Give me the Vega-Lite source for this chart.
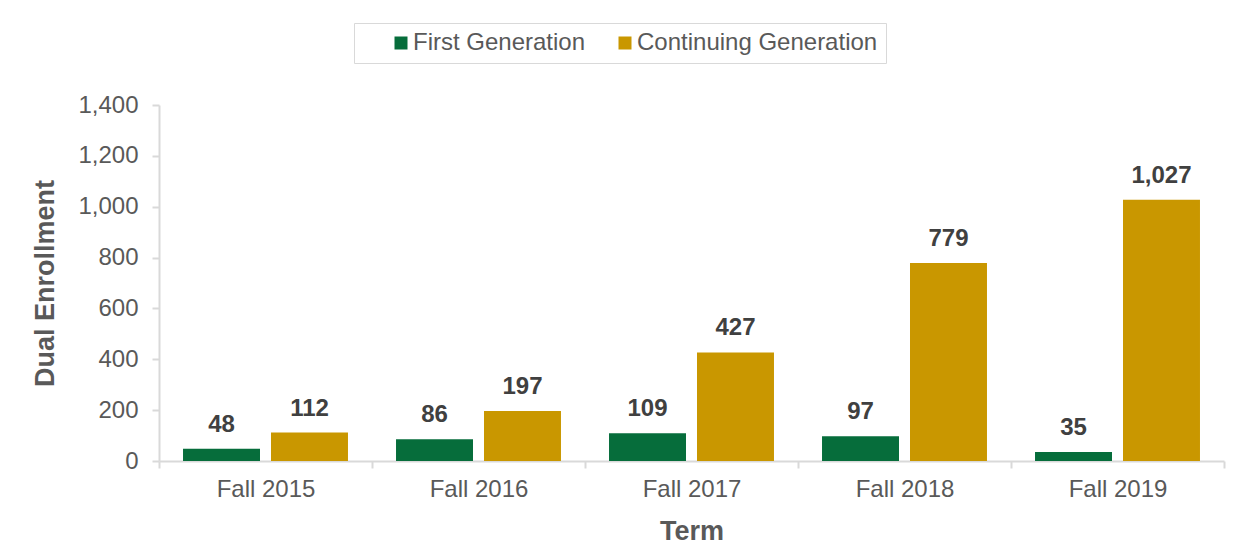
{
  "$schema": "https://vega.github.io/schema/vega-lite/v6.json",
  "autosize": {"type": "none"},
  "width": 1065,
  "height": 356,
  "padding": {"left": 159, "top": 105, "right": 29, "bottom": 91},
  "background": "white",
  "config": {
    "view": {"stroke": null},
    "font": "Liberation Sans",
    "axis": {"labelFont": "Liberation Sans", "titleFont": "Liberation Sans"}
  },
  "data": {
    "values": [
      {"Term": "Fall 2015", "Series": "First Generation", "Enrollment": 48},
      {"Term": "Fall 2015", "Series": "Continuing Generation", "Enrollment": 112},
      {"Term": "Fall 2016", "Series": "First Generation", "Enrollment": 86},
      {"Term": "Fall 2016", "Series": "Continuing Generation", "Enrollment": 197},
      {"Term": "Fall 2017", "Series": "First Generation", "Enrollment": 109},
      {"Term": "Fall 2017", "Series": "Continuing Generation", "Enrollment": 427},
      {"Term": "Fall 2018", "Series": "First Generation", "Enrollment": 97},
      {"Term": "Fall 2018", "Series": "Continuing Generation", "Enrollment": 779},
      {"Term": "Fall 2019", "Series": "First Generation", "Enrollment": 35},
      {"Term": "Fall 2019", "Series": "Continuing Generation", "Enrollment": 1027}
    ]
  },
  "encoding": {
    "x": {
      "field": "Term", "type": "nominal",
      "scale": {"paddingInner": 0, "paddingOuter": 0},
      "axis": {
        "title": "Term", "titleFontSize": 27, "titleFontWeight": "bold", "titleColor": "#595959",
        "titlePadding": 17,
        "labelAngle": 0, "labelFontSize": 24, "labelColor": "#595959", "labelPadding": 9,
        "tickBand": "extent", "tickSize": 7, "tickColor": "#d9d9d9", "domainColor": "#d9d9d9", "domainWidth": 2, "tickWidth": 2
      }
    },
    "xOffset": {
      "field": "Series", "type": "nominal",
      "sort": ["First Generation", "Continuing Generation"],
      "scale": {"paddingInner": 0.125, "paddingOuter": 0.273}
    }
  },
  "layer": [
    {
      "mark": {"type": "bar"},
      "encoding": {
        "y": {
          "field": "Enrollment", "type": "quantitative",
          "scale": {"domain": [0, 1400]},
          "axis": {
            "title": "Dual Enrollment", "titleFontSize": 27, "titleFontWeight": "bold", "titleColor": "#595959",
            "titlePadding": 18,
            "values": [0, 200, 400, 600, 800, 1000, 1200, 1400], "format": ",.0f",
            "labelFontSize": 24, "labelColor": "#595959", "labelPadding": 14,
            "grid": false, "tickSize": 7, "tickColor": "#d9d9d9", "domainColor": "#d9d9d9", "domainWidth": 2, "tickWidth": 2
          }
        },
        "color": {
          "field": "Series", "type": "nominal",
          "scale": {"domain": ["First Generation", "Continuing Generation"], "range": ["#066d3b", "#c99700"]},
          "legend": {
            "title": null, "orient": "none", "direction": "horizontal",
            "legendX": 195, "legendY": -82,
            "symbolType": "square", "symbolSize": 169, "symbolStrokeWidth": 0,
            "labelFontSize": 24, "labelColor": "#595959", "labelFont": "Liberation Sans", "labelLimit": 0,
            "columnPadding": 0, "symbolOffset": 27, "labelOffset": 0,
            "strokeColor": "#d9d9d9", "padding": 8, "offset": 0,
            "fillColor": "white"
          }
        }
      }
    },
    {
      "mark": {"type": "text", "baseline": "bottom", "dy": -12, "fontSize": 24, "fontWeight": "bold", "color": "#404040", "font": "Liberation Sans"},
      "encoding": {
        "y": {"field": "Enrollment", "type": "quantitative"},
        "text": {"field": "Enrollment", "type": "quantitative", "format": ",.0f"}
      }
    }
  ]
}
